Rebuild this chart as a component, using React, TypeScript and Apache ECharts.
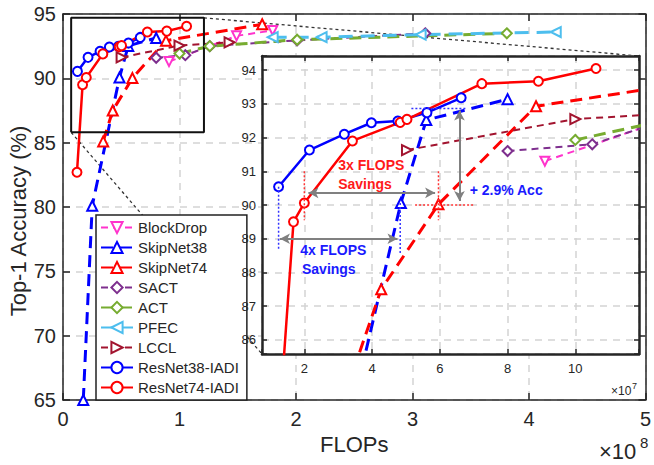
import React, { useEffect, useRef } from 'react';
import * as echarts from 'echarts';

// FLOPs in units of 1e7, Top-1 accuracy in %
const seriesNames = ['BlockDrop', 'SkipNet38', 'SkipNet74', 'SACT', 'ACT', 'PFEC', 'LCCL', 'ResNet38-IADI', 'ResNet74-IADI'];

const blockDropX = [9.1, 14.9, 18.0];
const blockDropY = [91.3, 93.3, 93.72];
const skipNet38X = [1.74, 2.51, 4.85, 5.6, 8.0];
const skipNet38Y = [65.0, 80.1, 90.06, 92.52, 93.14];
const skipNet74X = [3.45, 4.27, 5.96, 8.84, 17.1];
const skipNet74Y = [85.1, 87.5, 90.02, 92.93, 94.2];
const sactX = [8.0, 10.5, 12.6, 20.1, 31.1];
const sactY = [91.6, 91.8, 92.5, 92.95, 93.5];
const actX = [10.0, 12.6, 20.1, 38.1];
const actY = [91.93, 92.5, 93.0, 93.5];
const pfecX = [18.0, 22.2, 30.7, 42.3];
const pfecY = [93.2, 93.2, 93.4, 93.6];
const lcclX = [5.03, 10.0, 14.3];
const lcclY = [91.63, 92.55, 92.8];
const resNet38X = [1.24, 2.15, 3.18, 3.98, 4.76, 5.62, 6.63];
const resNet38Y = [90.54, 91.63, 92.1, 92.44, 92.49, 92.74, 93.18];
const resNet74X = [1.2, 1.68, 2.0, 3.42, 4.83, 5.03, 7.24, 8.91, 10.61];
const resNet74Y = [82.7, 89.5, 90.06, 91.9, 92.45, 92.54, 93.6, 93.67, 94.05];

const mainXRange = [0, 50];
const mainYRange = [65, 95];
const insetXRange = [0.75, 11.88];
const insetYRange = [85.58, 94.42];
const zoomBoxX = [0.7, 12.1];
const zoomBoxY = [85.8, 94.7];

// annotation geometry (data coords of inset)
const blueDotLines = [
  [[1.24, 90.54], [1.24, 88.7]],
  [[4.83, 90.06], [4.83, 88.56]],
  [[5.16, 92.86], [6.79, 92.86]],
];
const redDotLines = [
  [[2.0, 91.0], [2.0, 89.55]],
  [[5.96, 91.0], [5.96, 89.55]],
  [[5.27, 90.0], [6.99, 90.0]],
];
const greyArrows = [
  [[1.28, 89.0], [4.75, 89.0]],
  [[2.12, 90.36], [5.86, 90.36]],
  [[6.58, 92.8], [6.58, 90.12]],
];
const annotTexts = [
  { text: '3x FLOPS', at: [3.0, 91.18], color: '#FF1A1A' },
  { text: 'Savings', at: [3.0, 90.62], color: '#FF1A1A' },
  { text: '4x FLOPS', at: [1.88, 88.66], color: '#1A1AFF' },
  { text: 'Savings', at: [1.93, 88.09], color: '#1A1AFF' },
  { text: '+ 2.9% Acc', at: [6.88, 90.44], color: '#1A1AFF' },
];

const seriesX: Record<string, number[]> = {
  'BlockDrop': blockDropX, 'SkipNet38': skipNet38X, 'SkipNet74': skipNet74X, 'SACT': sactX, 'ACT': actX,
  'PFEC': pfecX, 'LCCL': lcclX, 'ResNet38-IADI': resNet38X, 'ResNet74-IADI': resNet74X,
};
const seriesY: Record<string, number[]> = {
  'BlockDrop': blockDropY, 'SkipNet38': skipNet38Y, 'SkipNet74': skipNet74Y, 'SACT': sactY, 'ACT': actY,
  'PFEC': pfecY, 'LCCL': lcclY, 'ResNet38-IADI': resNet38Y, 'ResNet74-IADI': resNet74Y,
};

const styles: Record<string, any> = {
  'BlockDrop': { color: '#FF33CC', symbol: 'emptyTriangle', rotate: 180, width: 2, dash: [7, 5], size: 9 },
  'SkipNet38': { color: '#0000FF', symbol: 'emptyTriangle', rotate: 0, width: 3, dash: [12, 7], size: 10 },
  'SkipNet74': { color: '#FF0000', symbol: 'emptyTriangle', rotate: 0, width: 3, dash: [12, 7], size: 10 },
  'SACT': { color: '#7E2F8E', symbol: 'emptyDiamond', rotate: 0, width: 2, dash: [7, 5], size: 10 },
  'ACT': { color: '#77AC30', symbol: 'emptyDiamond', rotate: 0, width: 3, dash: [12, 7], size: 10 },
  'PFEC': { color: '#4DBEEE', symbol: 'emptyTriangle', rotate: 90, width: 3, dash: [14, 8], size: 10 },
  'LCCL': { color: '#A2142F', symbol: 'emptyTriangle', rotate: -90, width: 2, dash: [7, 5], size: 10 },
  'ResNet38-IADI': { color: '#0000FF', symbol: 'emptyCircle', rotate: 0, width: 2.5, dash: 'solid', size: 9 },
  'ResNet74-IADI': { color: '#FF0000', symbol: 'emptyCircle', rotate: 0, width: 2.5, dash: 'solid', size: 9 },
};

const FONT = 'Liberation Sans, Arial, Helvetica, sans-serif';
const INK = '#262626';

const zip = (xs: number[], ys: number[]) => xs.map((x, i) => [x, ys[i]]);

export default function App() {
  const ref = useRef<HTMLDivElement>(null);
  useEffect(() => {
    if (!ref.current) return;
    const chart = echarts.init(ref.current, null, { renderer: 'svg' });

    const mkSeries = (name: string, grid: number) => {
      const s = styles[name];
      return {
        name, type: 'line',
        xAxisIndex: grid === 0 ? 0 : 2, yAxisIndex: grid === 0 ? 0 : 2,
        data: zip(seriesX[name], seriesY[name]),
        symbol: s.symbol, symbolSize: s.size, symbolRotate: s.rotate, showSymbol: true,
        itemStyle: { color: s.color, borderWidth: 2 },
        lineStyle: { color: s.color, width: s.width, type: s.dash },
        z: grid === 0 ? 2 : 5, silent: true, clip: true,
      };
    };

    const axisLine = (w: number) => ({ show: true, onZero: false, lineStyle: { color: INK, width: w } });
    const tick = (len: number, w: number) => ({ show: true, inside: true, length: len, lineStyle: { color: INK, width: w } });
    const split = { show: true, lineStyle: { color: '#D4D4D4', width: 1.5, type: [7, 6] } };

    const series: any[] = [];
    seriesNames.forEach((n) => series.push(mkSeries(n, 0)));
    series.push({
      name: 'zoomBox', type: 'line', xAxisIndex: 0, yAxisIndex: 0, silent: true, symbol: 'none',
      data: [[zoomBoxX[0], zoomBoxY[0]], [zoomBoxX[1], zoomBoxY[0]], [zoomBoxX[1], zoomBoxY[1]], [zoomBoxX[0], zoomBoxY[1]], [zoomBoxX[0], zoomBoxY[0]]],
      lineStyle: { color: '#111', width: 2 }, z: 2,
    });
    seriesNames.forEach((n) => series.push(mkSeries(n, 1)));
    blueDotLines.forEach((d, i) => series.push({
      name: 'bdot' + i, type: 'line', xAxisIndex: 2, yAxisIndex: 2, silent: true, symbol: 'none', data: d,
      lineStyle: { color: '#3333FF', width: 1.5, type: [2, 2] }, z: 6,
    }));
    redDotLines.forEach((d, i) => series.push({
      name: 'rdot' + i, type: 'line', xAxisIndex: 2, yAxisIndex: 2, silent: true, symbol: 'none', data: d,
      lineStyle: { color: '#FF3333', width: 1.5, type: [2, 2] }, z: 6,
    }));
    series.push({
      name: 'arrows', type: 'line', xAxisIndex: 2, yAxisIndex: 2, silent: true, data: [],
      markLine: {
        silent: true, symbol: ['arrow', 'arrow'], symbolSize: [8, 10], label: { show: false },
        lineStyle: { color: '#808080', width: 2, type: 'solid' }, z: 7,
        data: greyArrows.map((a) => [{ coord: a[0] }, { coord: a[1] }]),
      },
    });

    const option: any = {
      animation: false,
      backgroundColor: '#fff',
      grid: [
        { left: 63, top: 14, width: 584, height: 386, show: false, z: 0 },
        { left: 262, top: 56, width: 377, height: 298, show: true, backgroundColor: '#fff', borderWidth: 0, z: 3 },
      ],
      legend: {
        data: seriesNames, orient: 'vertical', left: 96, top: 215, itemWidth: 32, itemHeight: 14, itemGap: 5,
        padding: [5, 8, 5, 4], backgroundColor: '#fff', borderColor: '#222', borderWidth: 1.5, selectedMode: false,
        textStyle: { fontSize: 15, color: INK, fontFamily: FONT }, z: 4,
      },
      xAxis: [
        {
          gridIndex: 0, type: 'value', min: mainXRange[0], max: mainXRange[1], interval: 10, position: 'bottom',
          axisLine: axisLine(1.5), axisTick: tick(7, 1.5), splitLine: split,
          axisLabel: { color: INK, fontSize: 20, fontFamily: FONT, margin: 9, formatter: (v: number) => String(v / 10) },
          name: 'FLOPs', nameLocation: 'middle', nameGap: 29,
          nameTextStyle: { fontSize: 22, color: INK, fontFamily: FONT },
        },
        {
          gridIndex: 0, type: 'value', min: mainXRange[0], max: mainXRange[1], interval: 10, position: 'top',
          axisLine: axisLine(1.5), axisTick: tick(7, 1.5), splitLine: { show: false }, axisLabel: { show: false },
        },
        {
          gridIndex: 1, type: 'value', min: insetXRange[0], max: insetXRange[1], minInterval: 2, maxInterval: 2, position: 'bottom', z: 4,
          axisLine: axisLine(2.5), axisTick: tick(5, 1.5), splitLine: split,
          axisLabel: { color: INK, fontSize: 13, fontFamily: FONT, margin: 8, formatter: (v: number) => (Math.abs(v - Math.round(v)) < 1e-6 && Math.round(v) % 2 === 0 ? String(Math.round(v)) : '') },
        },
        {
          gridIndex: 1, type: 'value', min: insetXRange[0], max: insetXRange[1], minInterval: 2, maxInterval: 2, position: 'top', z: 4,
          axisLine: axisLine(2.5), axisTick: tick(5, 1.5), splitLine: { show: false }, axisLabel: { show: false },
        },
      ],
      yAxis: [
        {
          gridIndex: 0, type: 'value', min: mainYRange[0], max: mainYRange[1], interval: 5, position: 'left',
          axisLine: axisLine(1.5), axisTick: tick(7, 1.5), splitLine: split,
          axisLabel: { color: INK, fontSize: 20, fontFamily: FONT, margin: 7 },
        },
        {
          gridIndex: 0, type: 'value', min: mainYRange[0], max: mainYRange[1], interval: 5, position: 'right',
          axisLine: axisLine(1.5), axisTick: tick(7, 1.5), splitLine: { show: false }, axisLabel: { show: false },
        },
        {
          gridIndex: 1, type: 'value', min: insetYRange[0], max: insetYRange[1], minInterval: 1, maxInterval: 1, position: 'left', z: 4,
          axisLine: axisLine(2.5), axisTick: tick(5, 1.5), splitLine: split,
          axisLabel: { color: INK, fontSize: 13, fontFamily: FONT, margin: 6, formatter: (v: number) => (Math.abs(v - Math.round(v)) < 1e-6 ? String(Math.round(v)) : '') },
        },
        {
          gridIndex: 1, type: 'value', min: insetYRange[0], max: insetYRange[1], minInterval: 1, maxInterval: 1, position: 'right', z: 4,
          axisLine: axisLine(2.5), axisTick: tick(5, 1.5), splitLine: { show: false }, axisLabel: { show: false },
        },
      ],
      series,
    };
    chart.setOption(option);

    const px = (g: number, p: number[]) => chart.convertToPixel({ gridIndex: g } as any, p) as number[];
    const boxTR = px(0, [zoomBoxX[1], zoomBoxY[1]]);
    const boxBL = px(0, [zoomBoxX[0], zoomBoxY[0]]);
    const inTR = px(1, [insetXRange[1], insetYRange[1]]);
    const inBL = px(1, [insetXRange[0], insetYRange[0]]);
    const graphic: any[] = [
      { type: 'line', z: 1, silent: true, shape: { x1: boxTR[0], y1: boxTR[1], x2: inTR[0], y2: inTR[1] }, style: { stroke: '#333', lineWidth: 1.3, lineDash: [3, 3] } },
      { type: 'line', z: 1, silent: true, shape: { x1: boxBL[0], y1: boxBL[1], x2: inBL[0], y2: inBL[1] }, style: { stroke: '#333', lineWidth: 1.3, lineDash: [3, 3] } },
    ];
    annotTexts.forEach((t) => {
      const p = px(1, t.at);
      graphic.push({
        type: 'text', z: 20, silent: true, x: p[0], y: p[1],
        style: { text: t.text, fill: t.color, font: `bold 14px ${FONT}`, textAlign: 'left', textVerticalAlign: 'middle' },
      });
    });
    // axis title and exponent labels
    graphic.push(
      { type: 'text', z: 20, silent: true, x: 18, y: 221, rotation: Math.PI / 2, style: { text: 'Top-1 Accuracy (%)', fill: INK, font: `22px ${FONT}`, textAlign: 'center', textVerticalAlign: 'middle' } },
      { type: 'text', z: 20, silent: true, x: 599, y: 462, style: { text: '×10', fill: INK, font: `22px ${FONT}`, textAlign: 'left', textVerticalAlign: 'bottom' } },
      { type: 'text', z: 20, silent: true, x: 640, y: 450, style: { text: '8', fill: INK, font: `15px ${FONT}`, textAlign: 'left', textVerticalAlign: 'bottom' } },
      { type: 'text', z: 20, silent: true, x: 611, y: 397, style: { text: '×10', fill: INK, font: `12px ${FONT}`, textAlign: 'left', textVerticalAlign: 'bottom' } },
      { type: 'text', z: 20, silent: true, x: 632, y: 390, style: { text: '7', fill: INK, font: `9px ${FONT}`, textAlign: 'left', textVerticalAlign: 'bottom' } },
    );
    chart.setOption({ graphic });

    return () => chart.dispose();
  }, []);
  return <div ref={ref} style={{ width: 654, height: 465, position: 'absolute', left: 0, top: 0 }} />;
}
